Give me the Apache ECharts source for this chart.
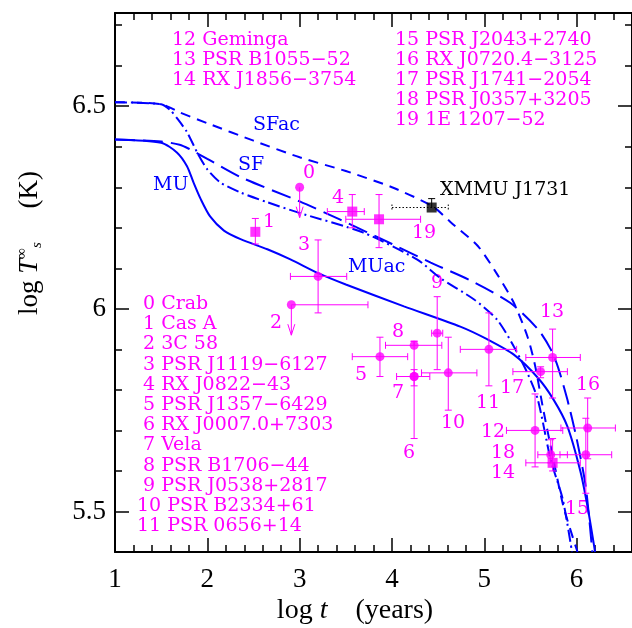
<!DOCTYPE html>
<html>
<head>
<meta charset="utf-8">
<script src="https://cdn.jsdelivr.net/npm/echarts@6/dist/echarts.min.js"></script>
<style>
  html, body { margin: 0; padding: 0; background: #fff; }
  #chart { width: 632px; height: 628px; }
</style>
</head>
<body>
<div id="chart"></div>
<script>
// cooling curves: [log t, log Ts]
const curveMU = [[1, 6.418], [1.5, 6.41], [1.67, 6.386], [1.78, 6.352], [1.85, 6.312], [1.93, 6.27], [2.03, 6.228], [2.18, 6.193], [2.36, 6.172], [2.65, 6.147], [2.9, 6.122], [3.2, 6.088], [3.5, 6.06], [4.13, 6.006], [4.74, 5.956], [5.03, 5.925], [5.32, 5.887], [5.58, 5.83], [5.75, 5.776], [5.9, 5.71], [6.04, 5.6], [6.12, 5.51], [6.2, 5.4]]
const curveSF = [[1, 6.418], [1.5, 6.413], [1.7, 6.405], [1.8, 6.395], [2.0, 6.37], [2.36, 6.325], [3.0, 6.265], [3.44, 6.22], [4.0, 6.16], [4.42, 6.114], [4.85, 6.07], [5.28, 6.015], [5.58, 5.95], [5.72, 5.9], [5.8, 5.855], [5.9, 5.776], [6.0, 5.68], [6.1, 5.56], [6.17, 5.4]]
const curveSFac = [[1, 6.51], [1.5, 6.505], [1.7, 6.485], [2.0, 6.458], [2.5, 6.415], [3.0, 6.374], [3.5, 6.34], [4.0, 6.3], [4.44, 6.253], [4.63, 6.215], [4.93, 6.155], [5.14, 6.085], [5.32, 6.015], [5.47, 5.93], [5.55, 5.86], [5.64, 5.75], [5.75, 5.627], [5.86, 5.51], [6.01, 5.4]]
const curveMUac = [[1, 6.51], [1.5, 6.505], [1.6, 6.49], [1.68, 6.468], [1.78, 6.436], [1.89, 6.386], [2.0, 6.344], [2.14, 6.312], [2.36, 6.287], [2.65, 6.263], [2.98, 6.238], [3.69, 6.188], [4.27, 6.122], [4.53, 6.075], [4.89, 6.023], [5.14, 5.973], [5.32, 5.907], [5.47, 5.84], [5.58, 5.776], [5.72, 5.627], [5.85, 5.53], [5.95, 5.4]]

// observed sources, index = label number
const sourceNames = ['Crab', 'Cas A', '3C 58', 'PSR J1119\u22126127', 'RX J0822\u221243', 'PSR J1357\u22126429',
  'RX J0007.0+7303', 'Vela', 'PSR B1706\u221244', 'PSR J0538+2817', 'PSR B2334+61', 'PSR 0656+14',
  'Geminga', 'PSR B1055\u221252', 'RX J1856\u22123754', 'PSR J2043+2740', 'RX J0720.4\u22123125',
  'PSR J1741\u22122054', 'PSR J0357+3205', '1E 1207\u221252']
const srcLogT = [3.0, 2.52, 2.91, 3.2, 3.57, 3.87, 4.24, 4.24, 4.24, 4.49, 4.61, 5.05, 5.55, 5.74, 5.74, 6.1, 6.12, 5.61, 5.72, 3.86]
const srcLogTlo = [3.0, 2.52, 2.91, 2.9, 3.3, 3.57, 4.24, 4.05, 3.93, 4.43, 4.32, 4.74, 5.24, 5.45, 5.45, 5.82, 5.83, 5.31, 5.58, 3.5]
const srcLogThi = [3.0, 2.52, 3.74, 3.51, 3.7, 4.17, 4.24, 4.41, 4.54, 4.55, 4.92, 5.35, 5.85, 6.04, 6.04, 6.38, 6.42, 5.9, 5.9, 4.31]
const srcLogTs = [6.3, 6.19, 6.01, 6.08, 6.24, 5.882, 5.833, 5.833, 5.91, 5.94, 5.842, 5.9, 5.7, 5.88, 5.62, 5.64, 5.706, 5.845, 5.64, 6.221]
const srcLogTsLo = [6.225, 6.16, 5.935, 5.99, 6.2, 5.833, 5.68, 5.81, 5.91, 5.85, 5.75, 5.81, 5.61, 5.78, 5.6, 5.545, 5.63, 5.83, 5.62, 6.151]
const srcLogTsHi = [6.3, 6.223, 6.01, 6.17, 6.282, 5.93, 5.92, 5.85, 5.92, 6.03, 5.93, 5.99, 5.79, 5.95, 5.68, 5.73, 5.78, 5.857, 5.677, 6.282]
const srcUpperLimit = [1, 0, 1, 0, 0, 0, 0, 0, 0, 0, 0, 0, 0, 0, 0, 0, 0, 0, 0, 0]
const srcSquare = [0, 1, 0, 0, 1, 0, 0, 0, 0, 0, 0, 0, 0, 0, 1, 0, 0, 0, 0, 1]

// XMMU J1731-347
const xmmu = [4.43, 6.25, 4.0, 4.61, 6.245, 6.272]

// axis ticks
const xMajor = [1, 2, 3, 4, 5, 6]
const xMinor = [1.2, 1.4, 1.6, 1.8, 2.2, 2.4, 2.6, 2.8, 3.2, 3.4, 3.6, 3.8, 4.2, 4.4, 4.6, 4.8, 5.2, 5.4, 5.6, 5.8, 6.2, 6.4]
const yMajor = [5.5, 6, 6.5]
const yMinor = [5.4, 5.6, 5.7, 5.8, 5.9, 6.1, 6.2, 6.3, 6.4, 6.6, 6.7]

const BLUE = '#0000ff'
const MAG = '#ff00ff'
const TXT = 'DejaVu Serif'

let chart = echarts.init(document.getElementById('chart'))

function axisPair (dim, pos, major, minor, showLabel) {
  let base = {
    type: 'value',
    position: pos,
    min: dim === 'x' ? 1 : 5.4,
    max: dim === 'x' ? 6.6 : 6.73,
    splitLine: { show: false },
    axisLine: { show: true, onZero: false, lineStyle: { color: '#000', width: 2 } }
  }
  let a = Object.assign({}, base, {
    axisTick: { show: true, inside: true, length: 14, customValues: major, lineStyle: { color: '#000', width: 1.5 } },
    axisLabel: showLabel ? {
      show: true, customValues: major, margin: dim === 'x' ? 14 : 9,
      fontFamily: 'Liberation Serif', fontSize: 27, color: '#000',
      formatter: v => String(v)
    } : { show: false }
  })
  let b = Object.assign({}, base, {
    axisLine: { show: false, onZero: false },
    axisTick: { show: true, inside: true, length: 7, customValues: minor, lineStyle: { color: '#000', width: 1.5 } },
    axisLabel: { show: false }
  })
  return [a, b]
}

// error bars + upper-limit arrows
function errorRender (params, api) {
  let x = api.value(0), y = api.value(1)
  let c = api.coord([x, y])
  let lo = api.coord([api.value(2), y])
  let hi = api.coord([api.value(3), y])
  let ylo = api.coord([x, api.value(4)])
  let yhi = api.coord([x, api.value(5)])
  let ul = api.value(6)
  let children = []
  let st = { stroke: MAG, lineWidth: 1 }
  let cap = 3.5
  if (hi[0] - lo[0] > 1) {
    children.push({ type: 'line', shape: { x1: lo[0], y1: c[1], x2: hi[0], y2: c[1] }, style: st })
    if (lo[0] < c[0] - 1) children.push({ type: 'line', shape: { x1: lo[0], y1: c[1] - cap, x2: lo[0], y2: c[1] + cap }, style: st })
    children.push({ type: 'line', shape: { x1: hi[0], y1: c[1] - cap, x2: hi[0], y2: c[1] + cap }, style: st })
  }
  if (ylo[1] - yhi[1] > 1) {
    children.push({ type: 'line', shape: { x1: c[0], y1: yhi[1], x2: c[0], y2: ylo[1] }, style: st })
    if (ul) {
      children.push({ type: 'line', shape: { x1: c[0] - 3.5, y1: ylo[1] - 11, x2: c[0], y2: ylo[1] }, style: st })
      children.push({ type: 'line', shape: { x1: c[0] + 3.5, y1: ylo[1] - 11, x2: c[0], y2: ylo[1] }, style: st })
    } else {
      if (yhi[1] < c[1] - 1) children.push({ type: 'line', shape: { x1: c[0] - cap, y1: yhi[1], x2: c[0] + cap, y2: yhi[1] }, style: st })
      if (ylo[1] > c[1] + 1) children.push({ type: 'line', shape: { x1: c[0] - cap, y1: ylo[1], x2: c[0] + cap, y2: ylo[1] }, style: st })
    }
  }
  return { type: 'group', children: children }
}

function xmmuRender (params, api) {
  let c = api.coord([api.value(0), api.value(1)])
  let lo = api.coord([api.value(2), api.value(1)])
  let hi = api.coord([api.value(3), api.value(1)])
  let yhi = api.coord([api.value(0), api.value(5)])
  let st = { stroke: '#000', lineWidth: 1, lineDash: [1.5, 2] }
  let sts = { stroke: '#000', lineWidth: 1 }
  return {
    type: 'group',
    children: [
      { type: 'line', shape: { x1: lo[0], y1: c[1], x2: hi[0], y2: c[1] }, style: st },
      { type: 'line', shape: { x1: lo[0], y1: c[1] - 3, x2: lo[0], y2: c[1] + 3 }, style: st },
      { type: 'line', shape: { x1: hi[0], y1: c[1] - 3, x2: hi[0], y2: c[1] + 3 }, style: st },
      { type: 'line', shape: { x1: c[0], y1: yhi[1], x2: c[0], y2: c[1] }, style: sts },
      { type: 'line', shape: { x1: c[0] - 3.5, y1: yhi[1], x2: c[0] + 3.5, y2: yhi[1] }, style: sts }
    ]
  }
}

let errData = srcLogT.map((t, i) => [t, srcLogTs[i], srcLogTlo[i], srcLogThi[i], srcLogTsLo[i], srcLogTsHi[i], srcUpperLimit[i]])
let circles = srcLogT.map((t, i) => [t, srcLogTs[i]]).filter((p, i) => !srcSquare[i])
let squares = srcLogT.map((t, i) => [t, srcLogTs[i]]).filter((p, i) => srcSquare[i])

function curve (data, dash) {
  return {
    type: 'line', data: data, smooth: 0.25, symbol: 'none', silent: true,
    lineStyle: { color: BLUE, width: 2, type: dash }, z: 3
  }
}

// texts
function txt (x, y, s, color, align) {
  return {
    type: 'text', x: x, y: y, silent: true,
    style: { text: s, fill: color, font: '19px "' + TXT + '"', align: align || 'left', verticalAlign: 'middle' }
  }
}
let texts = []
// top legend blocks
for (let i = 12; i <= 14; i++) texts.push(txt(172, 40 + (i - 12) * 20, i + ' ' + sourceNames[i], MAG))
for (let i = 15; i <= 19; i++) texts.push(txt(395, 40 + (i - 15) * 20, i + ' ' + sourceNames[i], MAG))
for (let i = 0; i <= 11; i++) texts.push(txt(i < 10 ? 143 : 137, 304 + i * 20.2, i + ' ' + sourceNames[i], MAG))
// number labels next to points
const numLabelPos = [[309, 173], [269, 222], [276, 323], [304, 245], [338, 198], [361, 375], [409, 453], [398, 393],
  [398, 332], [437, 283], [453, 423], [488, 403], [493, 432], [552, 312], [503, 473], [577, 509], [588, 385],
  [512, 388], [503, 453], [424, 233]]
numLabelPos.forEach((p, i) => texts.push(txt(p[0], p[1], String(i), MAG, 'center')))
// curve names
texts.push(txt(253, 125, 'SFac', BLUE))
texts.push(txt(238, 165, 'SF', BLUE))
texts.push(txt(153, 185, 'MU', BLUE))
texts.push(txt(348, 267, 'MUac', BLUE))
texts.push(txt(440, 190, 'XMMU J1731', '#000'))
// axis titles
texts.push({
  type: 'text', x: 355, y: 611, silent: true,
  style: {
    text: 'log {i|t}    (years)', align: 'center', verticalAlign: 'middle',
    font: '28px "Liberation Serif"', fill: '#000',
    rich: { i: { fontFamily: 'Liberation Serif', fontSize: 28, fontStyle: 'italic' } }
  }
})
texts.push({
  type: 'text', x: 30, y: 243, rotation: Math.PI / 2, silent: true,
  style: {
    text: 'log {i|T}{sup|\u221e}{sub|s}     (K)', align: 'center', verticalAlign: 'middle',
    font: '27px "Liberation Serif"', fill: '#000',
    rich: {
      i: { fontFamily: 'Liberation Serif', fontSize: 27, fontStyle: 'italic', lineHeight: 30 },
      sup: { fontFamily: 'Liberation Serif', fontSize: 15, verticalAlign: 'top', lineHeight: 30, padding: [0, 0, 10, 0] },
      sub: { fontFamily: 'Liberation Serif', fontSize: 15, fontStyle: 'italic', verticalAlign: 'bottom', lineHeight: 30, padding: [10, 0, 0, 0] }
    }
  }
})

let option = {
  animation: false,
  backgroundColor: '#fff',
  grid: { left: 115, right: 0, top: 13, bottom: 76 },
  xAxis: [].concat(axisPair('x', 'bottom', xMajor, xMinor, true), axisPair('x', 'top', xMajor, xMinor, false)),
  yAxis: [].concat(axisPair('y', 'left', yMajor, yMinor, true), axisPair('y', 'right', yMajor, yMinor, false)),
  series: [
    curve(curveMU, 'solid'),
    curve(curveSF, [20, 8]),
    curve(curveSFac, [10, 7]),
    curve(curveMUac, [12, 4, 2, 4]),
    {
      type: 'custom', renderItem: errorRender, data: errData, z: 4, silent: true,
      encode: { x: 0, y: 1 }
    },
    {
      type: 'scatter', data: circles, symbol: 'circle', symbolSize: 9, z: 5, silent: true,
      itemStyle: { color: MAG }
    },
    {
      type: 'scatter', data: squares, symbol: 'rect', symbolSize: 10, z: 5, silent: true,
      itemStyle: { color: MAG }
    },
    {
      type: 'custom', renderItem: xmmuRender, data: [xmmu], z: 4, silent: true,
      encode: { x: 0, y: 1 }
    },
    {
      type: 'scatter', data: [[xmmu[0], xmmu[1]]], symbol: 'rect', symbolSize: 10, z: 5, silent: true,
      itemStyle: { color: '#000' }
    }
  ],
  graphic: texts
}
chart.setOption(option)
</script>
</body>
</html>
